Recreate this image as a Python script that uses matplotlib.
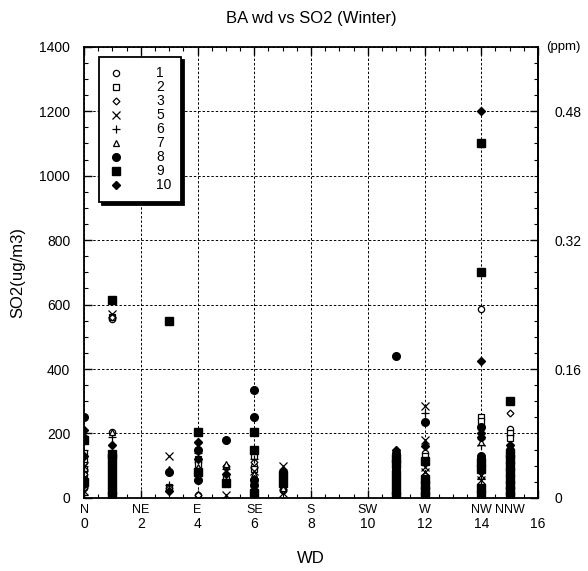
import matplotlib
matplotlib.use("Agg")
import matplotlib.pyplot as plt
from matplotlib.ticker import MultipleLocator, FixedLocator
from matplotlib import font_manager

# Wind-direction axis labels
dir_pos = [0, 2, 4, 6, 8, 10, 12, 14, 15]
dir_names = ["N", "NE", "E", "SE", "S", "SW", "W", "NW", "NNW"]
num_ticks = [0, 2, 4, 6, 8, 10, 12, 14, 16]

# Series labels and their SO2 readings (ug/m3) per wind-direction sector
labels = ["1", "2", "3", "5", "6", "7", "8", "9", "10"]

s1_wd = [0, 0, 0, 1, 1, 3, 4, 4, 5, 6, 7, 11, 12, 14, 14, 15, 15]
s1_so2 = [30, 70, 110, 205, 555, 25, 10, 110, 95, 100, 25, 60, 140, 585, 130, 215, 195]

s2_wd = [0, 0, 0, 1, 1, 3, 4, 4, 5, 6, 6, 7, 11, 12, 14, 14, 15, 15]
s2_so2 = [140, 120, 90, 560, 120, 35, 120, 105, 65, 130, 90, 40, 80, 130, 250, 240, 200, 185]

s3_wd = [0, 0, 1, 1, 3, 4, 5, 6, 7, 11, 12, 14, 15]
s3_so2 = [75, 40, 560, 110, 30, 10, 100, 110, 20, 40, 70, 80, 265]

s5_wd = [0, 0, 1, 1, 3, 4, 5, 6, 7, 7, 11, 12, 12, 12, 12, 14, 14, 14, 15]
s5_so2 = [100, 20, 570, 90, 130, 160, 10, 85, 100, 15, 50, 285, 180, 95, 80, 175, 70, 55, 110]

s6_wd = [0, 0, 1, 3, 4, 5, 6, 7, 11, 12, 14, 14, 15]
s6_so2 = [85, 10, 190, 40, 140, 90, 120, 60, 70, 265, 165, 60, 90]

s7_wd = [0, 1, 3, 4, 5, 6, 7, 11, 12, 14, 15]
s7_so2 = [60, 205, 90, 95, 105, 75, 30, 100, 170, 175, 130]

s8_wd = [0, 0, 0, 1, 1, 1, 3, 4, 4, 5, 6, 6, 6, 6, 7, 11, 11, 11, 12, 12, 14, 14, 15, 15]
s8_so2 = [250, 55, 45, 100, 60, 30, 80, 150, 55, 180, 335, 250, 55, 40, 60, 440, 140, 90, 235, 40, 220, 130, 150, 70]

s9_wd = [0, 0, 1, 1, 1, 1, 1, 1, 1, 1, 3, 4, 4, 5, 6, 6, 6, 7, 7,
         11, 11, 11, 11, 11, 11, 12, 12, 12, 12, 12, 14, 14, 14, 14, 14, 14,
         15, 15, 15, 15, 15, 15, 15, 15, 15]
s9_so2 = [180, 50, 615, 135, 125, 100, 75, 50, 25, 5, 550, 205, 80, 45, 205, 150, 15, 70, 45,
          125, 105, 75, 50, 25, 5, 115, 60, 40, 20, 5, 1100, 700, 110, 90, 30, 10,
          300, 140, 120, 100, 80, 60, 40, 20, 5]

s10_wd = [0, 0, 0, 1, 1, 3, 4, 4, 5, 6, 7, 7, 11, 11, 11, 11, 11, 12, 12,
          14, 14, 14, 14, 14, 14, 15, 15, 15, 15, 15]
s10_so2 = [210, 190, 130, 165, 80, 20, 175, 120, 75, 60, 85, 55, 150, 115, 60, 30, 15, 160, 30,
           1200, 425, 200, 190, 120, 20, 165, 115, 50, 30, 10]

series_wd = [s1_wd, s2_wd, s3_wd, s5_wd, s6_wd, s7_wd, s8_wd, s9_wd, s10_wd]
series_so2 = [s1_so2, s2_so2, s3_so2, s5_so2, s6_so2, s7_so2, s8_so2, s9_so2, s10_so2]

# Marker styles: (marker, size, filled)
styles = [("o", 4.5, False), ("s", 5.0, False), ("D", 3.5, False),
          ("x", 6.0, False), ("+", 6.0, False), ("^", 5.0, False),
          ("o", 5.5, True), ("s", 6.0, True), ("D", 4.0, True)]

installed = {f.name for f in font_manager.fontManager.ttflist}
fam = "Liberation Sans Narrow" if "Liberation Sans Narrow" in installed else "Liberation Sans"
plt.rcParams["font.family"] = [fam, "DejaVu Sans"]

fig = plt.figure(figsize=(5.88, 5.71), dpi=100)
ax = fig.add_axes([0.143, 0.128, 0.772, 0.790])

for wd, val, lab, (m, ms, filled) in zip(series_wd, series_so2, labels, styles):
    if m in ("x", "+"):
        ax.plot(wd, val, linestyle="none", marker=m, markersize=ms, color="black",
                markeredgewidth=0.9, label=lab)
    elif filled:
        ax.plot(wd, val, linestyle="none", marker=m, markersize=ms, color="black",
                markerfacecolor="black", markeredgecolor="black", label=lab)
    else:
        ax.plot(wd, val, linestyle="none", marker=m, markersize=ms,
                markerfacecolor="white", markeredgecolor="black",
                markeredgewidth=0.9, label=lab)

ax.set_xlim(0, 16)
ax.set_ylim(0, 1400)

ax.xaxis.set_major_locator(FixedLocator(num_ticks))
ax.set_xticklabels([str(t) for t in num_ticks])
ax.xaxis.set_minor_locator(MultipleLocator(0.5))
ax.yaxis.set_major_locator(MultipleLocator(200))
ax.yaxis.set_minor_locator(MultipleLocator(50))

ax.tick_params(axis="both", which="both", direction="in", top=True, right=False,
               labelsize=10)
ax.tick_params(axis="both", which="major", length=6, width=1)
ax.tick_params(axis="both", which="minor", length=3, width=0.8)
ax.tick_params(axis="x", which="major", pad=14)
ax.tick_params(axis="y", which="major", pad=10)

for sp in ax.spines.values():
    sp.set_linewidth(1.3)

ax.grid(True, which="major", color="black", linestyle=(0, (2.5, 2)), linewidth=0.7)
ax.set_axisbelow(True)

# Direction names sit just above the numeric tick labels
trans = ax.get_xaxis_transform()
for p, name in zip(dir_pos, dir_names):
    ax.text(p, -0.013, name, transform=trans, ha="center", va="top", fontsize=9)

# Secondary axis in ppm
sec = ax.secondary_yaxis("right", functions=(lambda v: v / 2500.0, lambda p: p * 2500.0))
sec.yaxis.set_major_locator(FixedLocator([0, 0.16, 0.32, 0.48]))
sec.set_yticklabels(["0", "0.16", "0.32", "0.48"])
sec.yaxis.set_minor_locator(MultipleLocator(0.02))
sec.tick_params(axis="y", which="both", direction="in", labelsize=10)
sec.tick_params(axis="y", which="major", length=6, width=1, pad=12)
sec.tick_params(axis="y", which="minor", length=3, width=0.8)
sec.spines["right"].set_linewidth(1.3)
ax.text(1.018, 1.0, "(ppm)", transform=ax.transAxes, ha="left", va="center", fontsize=9.5)

ax.set_title("BA wd vs SO2 (Winter)", fontsize=12, pad=17)
ax.set_ylabel("SO2(ug/m3)", fontsize=12, labelpad=10)
ax.set_xlabel("WD", fontsize=12, labelpad=14)

leg = ax.legend(loc="upper left", bbox_to_anchor=(0.033, 0.978), fancybox=False,
                shadow={"color": "black", "alpha": 1.0}, framealpha=1.0,
                edgecolor="black", fontsize=10, handlelength=1.0,
                handletextpad=2.4, labelspacing=0.0, borderpad=0.7,
                borderaxespad=0.0)
leg.get_frame().set_linewidth(1.3)

fig.savefig("out.png", dpi=100)
